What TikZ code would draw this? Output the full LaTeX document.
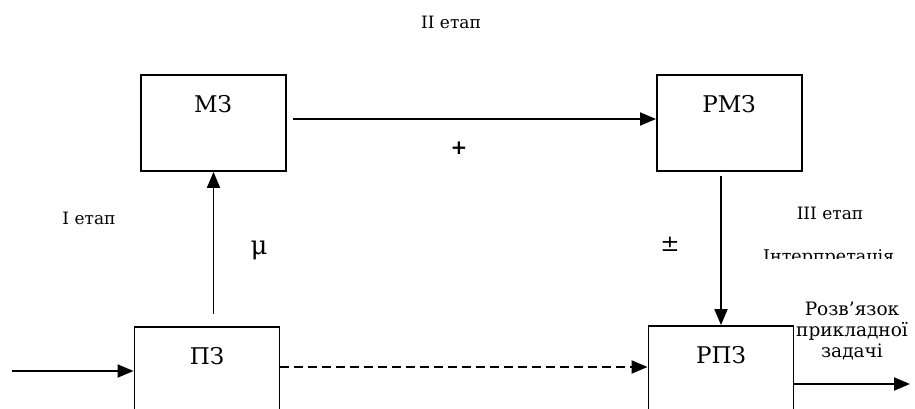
\documentclass[tikz,border=0pt]{standalone}
\usepackage{fontspec}
\setmainfont{DejaVu Serif}
\setsansfont{DejaVu Sans}
\usetikzlibrary{arrows.meta,calc}
\begin{document}
\begin{tikzpicture}[x=1pt,y=-1pt,
  box/.style={draw,line width=1.9pt,minimum width=145pt,minimum height=96pt,inner sep=0pt},
  conn/.style={line width=1.9pt,-{Triangle[length=16pt,width=13pt]}},
  lbl/.style={font=\fontsize{23}{26}\selectfont,inner sep=0pt},
  stage/.style={font=\fontsize{17}{20}\selectfont,inner sep=0pt},
  sym/.style={font=\fontsize{26}{28}\selectfont,inner sep=0pt}]
\useasboundingbox (0,0) rectangle (915,409);
\begin{scope}
\clip (0,0) rectangle (915,409);
% boxes
\node[box] (mz) at (213.5,123) {};
\node[box] (rmz) at (729.5,123) {};
\node[box] (pz) at (207,375) {};
\node[box] (rpz) at (721,374) {};
% box texts
\node[lbl] (tmz) at (213,104) {МЗ};
\node[lbl] (trmz) at (729,104) {РМЗ};
\node[lbl] (tpz) at (207,356) {ПЗ};
\node[lbl] (trpz) at (721,355) {РПЗ};
% connectors
\draw[conn] ($(mz.east)+(6,-4)$) -- ($(rmz.west)+(0,-4)$);
\draw[conn] ($(rmz.south -| rpz.north)+(0,4)$) -- (rpz.north);
\draw[conn] ($(pz.north -| mz.south)+(0,-12)$) -- (mz.south);
\coordinate (in) at (12,371);
\draw[conn] (in) -- (in -| pz.west);
\draw[conn,dash pattern=on 9pt off 5pt] ($(pz.east)+(0,-8)$) -- ($(rpz.west)+(0,-7)$);
\coordinate (out) at (910,384);
\draw[conn] (out -| rpz.east) -- (out);
% labels
\node[stage] (s2) at (451,22) {II етап};
\node[stage] (s1) at (89,218) {I етап};
\node[stage] (s3) at (830,213) {III етап};
\begin{scope}
\clip (700,240) rectangle (915,258);
\node[stage,anchor=north west,font=\fontsize{17.5}{20}\selectfont] (interp) at (763,249) {Інтерпретація};
\end{scope}
\node[sym] (mu) at (259,250) {μ};
\node[sym,font=\fontsize{23}{26}\selectfont] (pm) at (670,244) {±};
\node[sym,font=\sffamily\bfseries\fontsize{20}{22}\selectfont] (plus) at (459,148) {+};
\node[font=\fontsize{18.5}{21}\selectfont,align=center,inner sep=0pt] (res) at (852,331) {Розв’язок\\прикладної\\задачі};
\end{scope}
\end{tikzpicture}
\end{document}
